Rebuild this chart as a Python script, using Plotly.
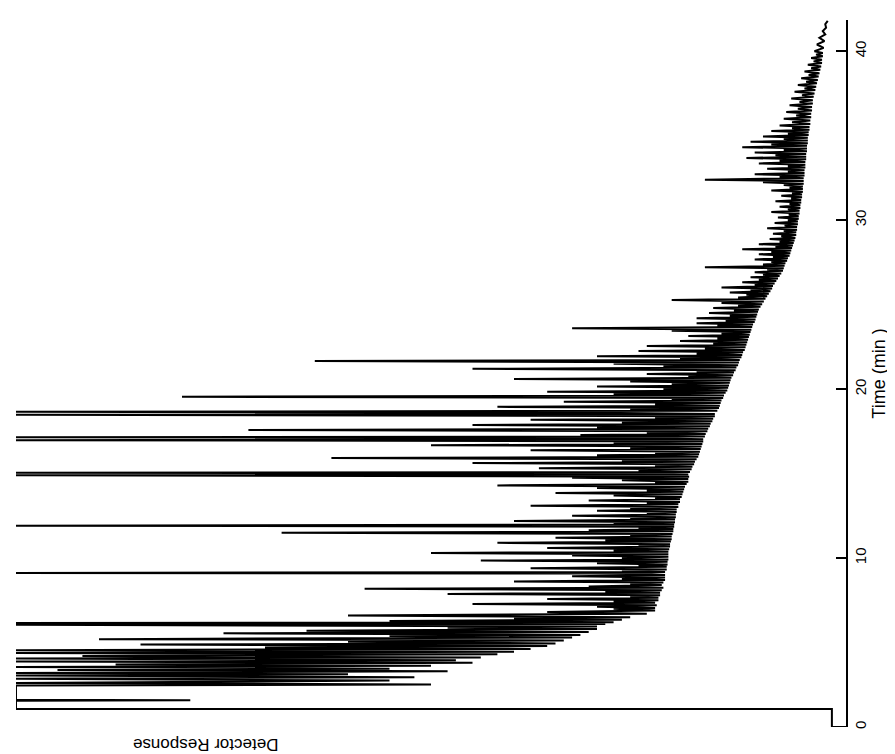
import plotly.graph_objects as go

# Chromatogram trace: (time in min, detector response in % of full scale)
seg_start = [(0.0, 0.0), (0.0, 1.7), (1.07, 1.7), (1.07, 100), (1.55, 100), (1.58, 79), (1.62, 100),
             (2.45, 100), (2.52, 50), (2.6, 100), (2.75, 55), (2.85, 100), (2.95, 52), (3.05, 100),
             (3.12, 60), (3.2, 100), (3.3, 48), (3.38, 95), (3.45, 55), (3.55, 100), (3.62, 50),
             (3.7, 88), (3.8, 45), (3.88, 100), (3.95, 47), (4.05, 100), (4.12, 44), (4.2, 92),
             (4.3, 42), (4.38, 100), (4.45, 40), (4.55, 100), (4.62, 38), (4.7, 70), (4.8, 36),
             (4.88, 85), (4.95, 35), (5.05, 60), (5.12, 34), (5.2, 90), (5.3, 33), (5.38, 55),
             (5.45, 32), (5.55, 75), (5.62, 31), (5.7, 65), (5.8, 30), (5.88, 48), (5.95, 30),
             (6.05, 100), (6.1, 29), (6.15, 100), (6.2, 28), (6.28, 55), (6.35, 27), (6.42, 40),
             (6.5, 26), (6.6, 60), (6.7, 24), (6.8, 36), (6.9, 23), (7.0, 28)]

seg_middle = [(7.05, 23.0), (7.12, 30), (7.2, 22.8), (7.28, 45), (7.35, 23), (7.42, 28), (7.5, 22.6),
              (7.58, 36), (7.65, 22.6), (7.72, 26), (7.8, 22.4), (7.88, 48), (7.95, 22.4), (8.02, 29),
              (8.1, 22.2), (8.18, 58), (8.25, 22), (8.32, 31), (8.4, 22.2), (8.48, 26), (8.55, 22),
              (8.62, 40), (8.7, 21.8), (8.78, 27), (8.85, 21.8), (8.92, 33), (9.0, 21.8), (9.08, 25),
              (9.12, 100), (9.17, 21.8), (9.25, 27), (9.32, 21.6), (9.4, 38), (9.48, 21.6), (9.55, 25),
              (9.62, 21.5), (9.7, 30), (9.78, 21.5), (9.85, 44), (9.92, 21.4), (10.0, 27), (10.08, 21.4),
              (10.15, 33), (10.22, 21.4), (10.3, 50), (10.38, 21.4), (10.45, 28), (10.52, 21.3),
              (10.6, 36), (10.68, 21.2), (10.75, 25), (10.82, 21.2), (10.9, 42), (10.98, 21.1),
              (11.05, 29), (11.12, 21), (11.2, 35), (11.28, 21), (11.35, 26), (11.42, 20.9), (11.5, 68),
              (11.58, 20.8), (11.65, 31), (11.72, 20.8), (11.8, 25), (11.86, 20.7), (11.92, 100),
              (11.98, 20.7), (12.05, 28), (12.12, 20.6), (12.2, 40), (12.28, 20.6), (12.35, 26),
              (12.42, 20.5), (12.5, 33), (12.58, 20.5), (12.65, 24), (12.72, 20.4), (12.8, 30),
              (12.88, 20.4), (12.95, 26), (13.02, 20.2), (13.1, 38), (13.18, 20.2), (13.25, 24),
              (13.32, 20), (13.4, 31), (13.48, 20), (13.55, 23), (13.62, 19.8), (13.7, 28), (13.78, 19.7),
              (13.85, 35), (13.92, 19.6), (14.0, 24), (14.08, 19.5), (14.15, 30), (14.22, 19.4),
              (14.3, 42), (14.38, 19.2), (14.45, 23), (14.52, 19), (14.6, 27), (14.68, 19), (14.75, 33),
              (14.82, 18.9), (14.9, 100), (14.95, 19), (15.0, 26), (15.05, 100), (15.1, 18.8),
              (15.18, 25), (15.25, 18.6), (15.32, 37), (15.4, 18.5), (15.48, 23), (15.55, 18.3),
              (15.62, 45), (15.7, 18.2), (15.78, 27), (15.85, 18), (15.92, 62), (16.0, 17.8),
              (16.08, 30), (16.15, 17.7), (16.22, 23), (16.3, 17.6), (16.38, 38), (16.45, 17.5),
              (16.52, 26), (16.6, 17.4), (16.68, 50), (16.75, 17.3), (16.82, 28), (16.9, 17.2),
              (16.98, 100), (17.04, 17.2), (17.1, 25), (17.15, 100), (17.2, 17), (17.28, 32),
              (17.35, 16.9), (17.42, 24), (17.5, 16.7), (17.58, 72), (17.65, 16.6), (17.72, 30),
              (17.8, 16.4), (17.88, 45), (17.95, 16.3), (18.02, 27), (18.1, 16.1), (18.18, 38),
              (18.25, 16), (18.32, 23), (18.4, 15.8), (18.48, 100), (18.53, 15.8), (18.6, 30),
              (18.66, 100), (18.72, 15.5), (18.8, 26), (18.88, 15.3), (18.95, 42), (19.02, 15.2),
              (19.1, 23), (19.18, 15.1), (19.25, 34), (19.32, 15), (19.4, 21), (19.47, 14.8),
              (19.55, 80), (19.62, 14.7), (19.7, 28), (19.78, 14.5), (19.85, 36), (19.92, 14.3),
              (20.0, 22)]

seg_late = [(20.08, 14.2), (20.15, 30), (20.22, 14.1), (20.3, 21), (20.38, 14), (20.45, 26), (20.52, 13.9),
            (20.6, 40), (20.68, 13.8), (20.75, 19), (20.82, 13.6), (20.9, 24), (20.98, 13.5), (21.05, 18),
            (21.12, 13.3), (21.2, 45), (21.28, 13.2), (21.35, 22), (21.42, 13), (21.5, 28), (21.58, 12.9),
            (21.66, 64), (21.73, 12.8), (21.8, 20), (21.88, 12.6), (21.95, 30), (22.02, 12.5), (22.1, 18),
            (22.18, 12.4), (22.25, 25), (22.32, 12.2), (22.4, 17), (22.48, 12.1), (22.55, 24), (22.62, 12),
            (22.7, 16), (22.78, 11.9), (22.85, 20), (22.92, 11.8), (23.0, 15.5), (23.08, 11.7), (23.15, 19),
            (23.22, 11.6), (23.3, 15), (23.38, 11.5), (23.45, 21), (23.52, 11.4), (23.6, 33), (23.68, 11.3),
            (23.75, 15.5), (23.82, 11.2), (23.9, 18), (23.98, 11), (24.05, 14.5), (24.12, 10.9), (24.2, 18),
            (24.28, 10.8), (24.35, 14), (24.42, 10.7), (24.5, 16.5), (24.58, 10.6), (24.65, 13.5), (24.72, 10.5),
            (24.8, 16), (24.88, 10.3), (24.95, 13), (25.02, 10.1), (25.1, 15), (25.18, 9.9), (25.28, 21),
            (25.35, 9.7), (25.42, 13), (25.5, 9.5), (25.58, 12), (25.65, 9.3), (25.72, 14), (25.8, 9.1),
            (25.88, 11.5), (25.95, 8.9), (26.02, 15), (26.1, 8.8), (26.18, 11), (26.25, 8.6), (26.32, 12.5),
            (26.4, 8.4), (26.48, 10.5), (26.55, 8.2), (26.62, 11.5), (26.7, 8), (26.78, 10), (26.85, 7.8),
            (26.92, 11), (27.0, 7.6), (27.08, 9.5), (27.15, 7.5), (27.22, 17), (27.3, 7.4), (27.38, 10),
            (27.45, 7.3), (27.52, 9), (27.6, 7.1), (27.68, 11), (27.75, 7), (27.82, 8.8), (27.9, 6.8),
            (27.98, 10.5)]

seg_tail = [(28.05, 6.7), (28.12, 9), (28.2, 6.6), (28.28, 12.5), (28.35, 6.5), (28.42, 8.5), (28.5, 6.4),
            (28.58, 10.5), (28.65, 6.3), (28.72, 8), (28.8, 6.2), (28.88, 9.2), (28.95, 6.1), (29.05, 7.8),
            (29.12, 6), (29.2, 8.8), (29.28, 6), (29.36, 7.5), (29.44, 5.9), (29.52, 9.5), (29.6, 5.9),
            (29.68, 7.4), (29.76, 5.8), (29.84, 8.6), (29.92, 5.8), (30.0, 7), (30.08, 5.7), (30.16, 8.2),
            (30.24, 5.7), (30.32, 6.9), (30.4, 5.6), (30.48, 9), (30.56, 5.6), (30.64, 7), (30.72, 5.5),
            (30.8, 8), (30.88, 5.5), (30.96, 6.8), (31.04, 5.4), (31.12, 8.5), (31.2, 5.4), (31.28, 6.6),
            (31.36, 5.3), (31.44, 7.8), (31.52, 5.3), (31.6, 6.5), (31.68, 5.2), (31.76, 9), (31.84, 5.2),
            (31.92, 6.8), (32.0, 5.2), (32.08, 7.5), (32.16, 5.1), (32.24, 10), (32.32, 5.1), (32.4, 17),
            (32.48, 5.1), (32.56, 8), (32.64, 5), (32.72, 11), (32.8, 5), (32.88, 7), (32.96, 5),
            (33.04, 9.5), (33.12, 4.9), (33.2, 7), (33.28, 4.9), (33.36, 10.5), (33.44, 4.9), (33.52, 8),
            (33.6, 4.8), (33.68, 12), (33.76, 4.8), (33.84, 8.5), (33.92, 4.8), (34.0, 11), (34.08, 4.7),
            (34.16, 7.5), (34.24, 4.7), (34.32, 12.5), (34.4, 4.7), (34.48, 9), (34.56, 4.6), (34.64, 11.5),
            (34.72, 4.6), (34.8, 7.5), (34.88, 4.6), (34.96, 10), (35.04, 4.5), (35.12, 7), (35.2, 4.5),
            (35.28, 9), (35.36, 4.4), (35.44, 6.5), (35.52, 4.4), (35.6, 8), (35.7, 4.3), (35.8, 6.5),
            (35.9, 4.3), (36.0, 7.5), (36.1, 4.2), (36.2, 6), (36.3, 4.2), (36.4, 7.2), (36.5, 4.1),
            (36.6, 5.8), (36.7, 4.1), (36.8, 6.8), (36.9, 4), (37.0, 5.6), (37.1, 4), (37.2, 6.6),
            (37.3, 3.9), (37.4, 5.3), (37.5, 3.8), (37.6, 6.2), (37.7, 3.7), (37.8, 5), (37.9, 3.6),
            (38.0, 5.8), (38.1, 3.5), (38.2, 4.8), (38.3, 3.4), (38.4, 5.4), (38.5, 3.3), (38.6, 4.5),
            (38.7, 3.2), (38.8, 5), (38.9, 3.1), (39.0, 4.2), (39.1, 3), (39.2, 4.6), (39.3, 2.9),
            (39.4, 3.9), (39.5, 2.9), (39.6, 4.2), (39.7, 2.8), (39.8, 3.6), (39.9, 2.8), (40.0, 3.8),
            (40.2, 2.7), (40.4, 3.5), (40.6, 2.6), (40.8, 3.2), (41.0, 2.5), (41.2, 2.8), (41.4, 2.4),
            (41.6, 2.5), (41.8, 2.2)]

time_ticks = [0, 10, 20, 30, 40]
time_tick_labels = ["0", "10", "20", "30", "40"]

trace_pts = seg_start + seg_middle + seg_late + seg_tail
time_min = [p[0] for p in trace_pts]
response = [p[1] for p in trace_pts]

fig = go.Figure()
fig.add_trace(go.Scatter(x=response, y=time_min, mode="lines",
                         line=dict(color="black", width=2.0), hoverinfo="skip",
                         showlegend=False, cliponaxis=False))

font_family = "Liberation Sans, Arial, sans-serif"
fig.update_layout(
    width=895, height=754,
    margin=dict(l=8, r=57, t=12, b=35),
    paper_bgcolor="white", plot_bgcolor="white",
    font=dict(family=font_family, color="black"),
    xaxis=dict(range=[100, 0], visible=False, showgrid=False, zeroline=False),
    yaxis=dict(range=[0, 41.85], side="right", showgrid=False, zeroline=False,
               showline=True, linecolor="black", linewidth=2,
               ticks="inside", ticklen=10, tickwidth=1.6, tickcolor="black",
               tickvals=time_ticks, ticktext=time_tick_labels, tickangle=-90,
               tickfont=dict(size=15, family=font_family, color="black"),
               title=dict(text="Time (min )", font=dict(size=18, family=font_family), standoff=4)),
    annotations=[dict(text="Detector Response", textangle=180, showarrow=False,
                      xref="paper", yref="paper", x=0.228, y=-0.024,
                      xanchor="center", yanchor="middle",
                      font=dict(size=17, family=font_family, color="black"))],
)

fig.write_html("out.html")
